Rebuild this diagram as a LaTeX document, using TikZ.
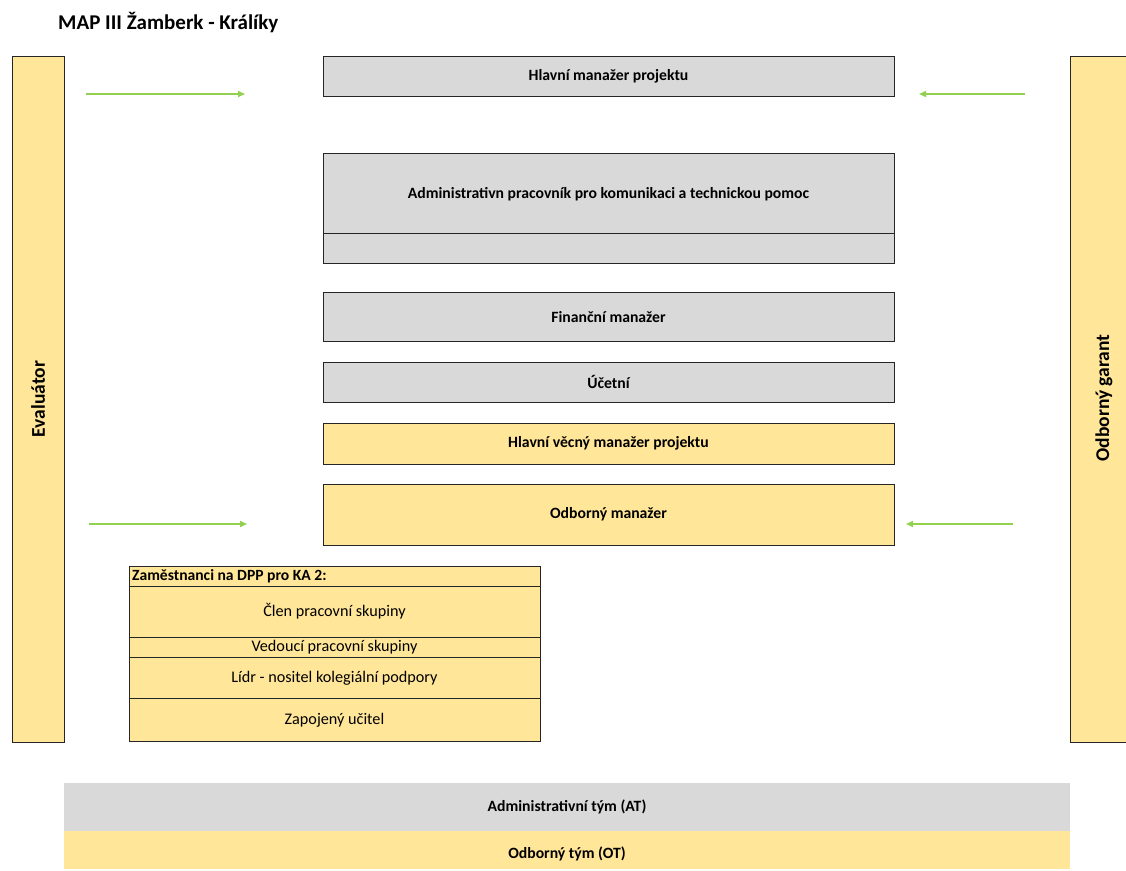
\documentclass[tikz,border=0pt]{standalone}
\usepackage{fontspec}
\setmainfont{Carlito}
\usetikzlibrary{arrows.meta}
\definecolor{boxgray}{HTML}{D9D9D9}
\definecolor{boxyel}{HTML}{FFE699}
\definecolor{arrgreen}{HTML}{92D050}
\definecolor{edge}{HTML}{262626}
\tikzset{
  graybox/.style={draw=edge, line width=0.9pt, fill=boxgray},
  yelbox/.style={draw=edge, line width=0.9pt, fill=boxyel},
  lbl/.style={font=\fontsize{15.7}{18}\selectfont\bfseries, inner sep=0pt},
  sidelbl/.style={font=\fontsize{19.5}{22}\selectfont\bfseries, inner sep=0pt, rotate=90},
  plain/.style={font=\fontsize{16.2}{18}\selectfont, inner sep=0pt},
  garrow/.style={draw=arrgreen, line width=1.6pt, -{Triangle[length=7pt,width=6pt]}},
}
\begin{document}
\begin{tikzpicture}[x=1pt,y=-1pt]
\useasboundingbox (0,0) rectangle (1126,870);
% title
\node[anchor=west, font=\fontsize{21}{24}\selectfont\bfseries, inner sep=0pt] (title) at (58,23) {MAP III Žamberk - Králíky};
% side bars
\draw[yelbox] (12,56) rectangle (64,742);
\node[sidelbl] (eval) at (38,399) {Evaluátor};
\draw[yelbox] (1070,56) rectangle (1130,742);
\node[sidelbl] (garant) at (1104,398) {Odborný garant};
% central boxes
\draw[graybox] (323,56) rectangle (894,96);
\node[lbl] (hmp) at (608.5,76) {Hlavní manažer projektu};
\draw[graybox] (323,153) rectangle (894,263);
\draw[edge, line width=0.9pt] (323,233) -- (894,233);
\node[lbl] (adm) at (608.5,194) {Administrativn pracovník pro komunikaci a technickou pomoc};
\draw[graybox] (323,292) rectangle (894,341);
\node[lbl] (fin) at (608.5,317) {Finanční manažer};
\draw[graybox] (323,362) rectangle (894,402);
\node[lbl] (uc) at (608.5,382) {Účetní};
\draw[yelbox] (323,423) rectangle (894,464);
\node[lbl] (hvm) at (608.5,443.5) {Hlavní věcný manažer projektu};
\draw[yelbox] (323,484) rectangle (894,545);
\node[lbl] (om) at (608.5,514.5) {Odborný manažer};
% arrows
\coordinate (a1s) at (86,94);   \coordinate (a1e) at (245,94);
\coordinate (a2s) at (1025,94); \coordinate (a2e) at (919,94);
\coordinate (a3s) at (89,524);  \coordinate (a3e) at (247,524);
\coordinate (a4s) at (1013,524);\coordinate (a4e) at (906,524);
\draw[garrow] (a1s) -- (a1e);
\draw[garrow] (a2s) -- (a2e);
\draw[garrow] (a3s) -- (a3e);
\draw[garrow] (a4s) -- (a4e);
% DPP table
\draw[yelbox] (129,566) rectangle (540,741);
\foreach \yy in {586,637,657,698} \draw[edge, line width=0.9pt] (129,\yy) -- (540,\yy);
\node[anchor=west, font=\fontsize{15.6}{17}\selectfont\bfseries, inner sep=0pt] (dpp) at (132,576.5) {Zaměstnanci na DPP pro KA 2:};
\node[plain] (clen) at (334.5,611.5) {Člen pracovní skupiny};
\node[plain] (ved) at (334.5,647.5) {Vedoucí pracovní skupiny};
\node[plain] (lidr) at (334.5,678) {Lídr - nositel kolegiální podpory};
\node[plain] (zap) at (334.5,720) {Zapojený učitel};
% legend
\fill[boxgray] (64,783) rectangle (1070,831);
\fill[boxyel] (64,831) rectangle (1070,869);
\node[lbl] (at) at (567,807) {Administrativní tým (AT)};
\node[lbl] (ot) at (567,854) {Odborný tým (OT)};
\end{tikzpicture}
\end{document}
